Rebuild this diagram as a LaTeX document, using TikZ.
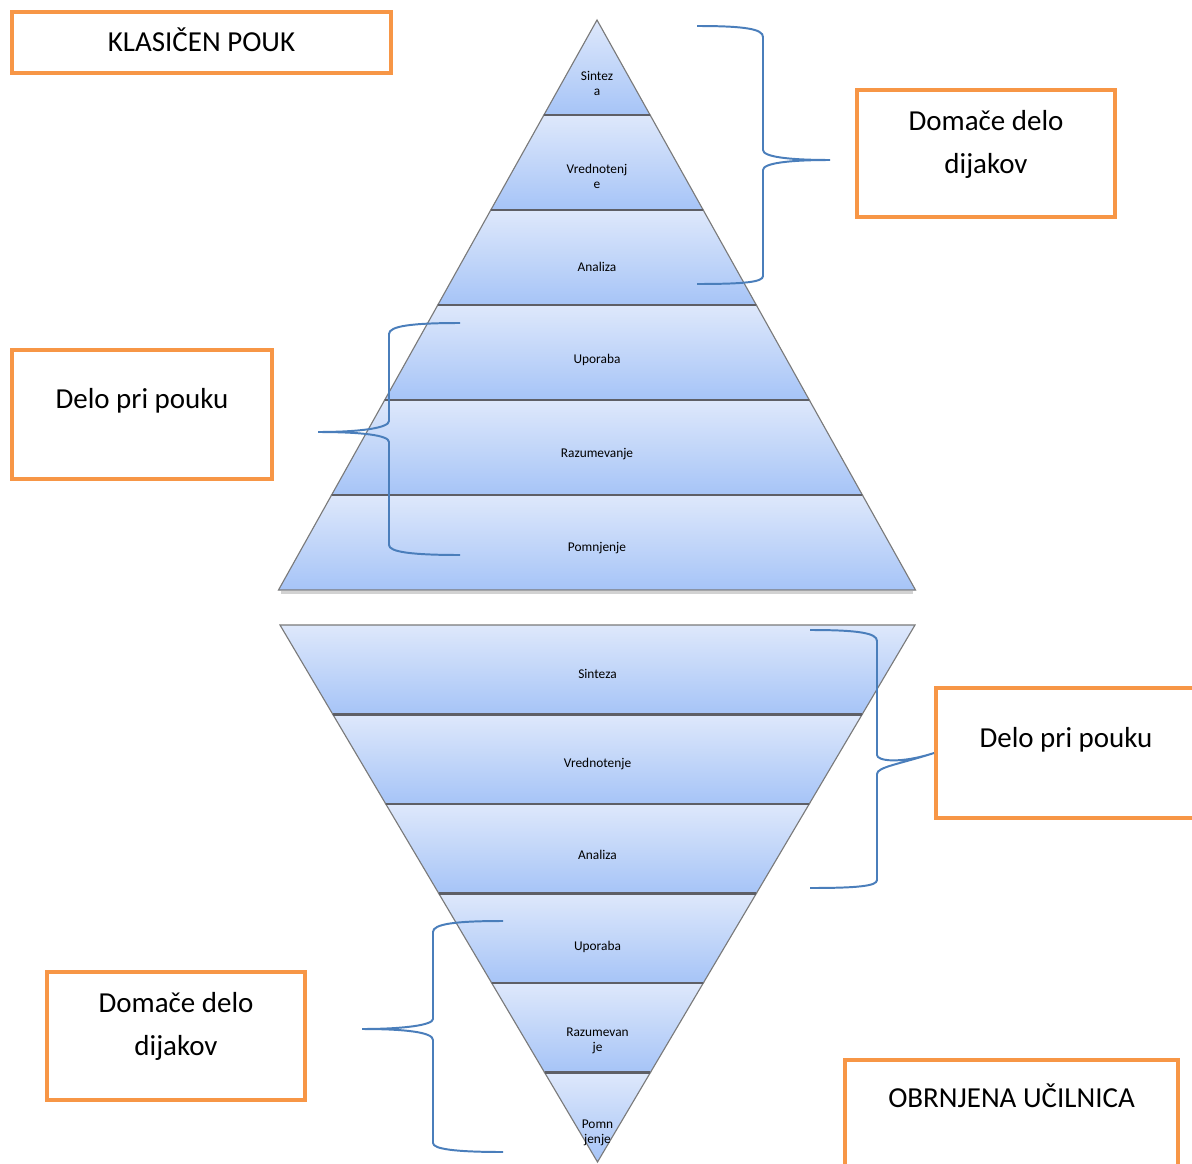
\documentclass[tikz,border=0pt]{standalone}
\usepackage{fontspec}
\setmainfont{Carlito}
\definecolor{boxorange}{HTML}{F79646}
\definecolor{braceblue}{HTML}{4A7EBB}
\definecolor{bandtop}{HTML}{DEE8FB}
\definecolor{bandbot}{HTML}{A6C4F7}
\definecolor{edgegray}{HTML}{7A7A7A}
\definecolor{sepgray}{HTML}{5E5F66}
\tikzstyle{box} = [rectangle, draw=boxorange, line width=2.8pt, fill=white,
    align=center, inner sep=0pt, text height=14pt, font=\fontsize{20.6}{30}\selectfont]
\tikzstyle{band} = [draw=edgegray, line width=0.8pt, top color=bandtop, bottom color=bandbot]
\tikzstyle{sep} = [draw=sepgray, line width=1.7pt]
\tikzstyle{level} = [align=center, inner sep=0pt, font=\fontsize{9.5}{10.7}\selectfont]
\tikzstyle{curly} = [draw=braceblue, line width=1.4pt]

\begin{document}
\begin{tikzpicture}[x=0.025cm, y=-0.025cm]
    \useasboundingbox (0,0) rectangle (1192,1164);
    \clip (0,0) rectangle (1192,1164);
    \fill[white] (0,0) rectangle (1192,1164);

    % klasicen pouk - pyramid
    \draw[gray, line width=2.2pt, opacity=0.35] (281,592.5) -- (913,592.5);
    \shade[band] (597,20) -- (650.1,115) -- (543.9,115) -- cycle;
    \shade[band] (543.9,115) -- (650.1,115) -- (703.2,210) -- (490.8,210) -- cycle;
    \shade[band] (490.8,210) -- (703.2,210) -- (756.3,305) -- (437.8,305) -- cycle;
    \shade[band] (437.8,305) -- (756.3,305) -- (809.3,400) -- (384.7,400) -- cycle;
    \shade[band] (384.7,400) -- (809.3,400) -- (862.4,495) -- (331.6,495) -- cycle;
    \shade[band] (331.6,495) -- (862.4,495) -- (915.5,590) -- (278.5,590) -- cycle;
    \draw[sep] (543.9,115) -- (650.1,115);
    \draw[sep] (490.8,210) -- (703.2,210);
    \draw[sep] (437.8,305) -- (756.3,305);
    \draw[sep] (384.7,400) -- (809.3,400);
    \draw[sep] (331.6,495) -- (862.4,495);

    % obrnjena ucilnica - inverted pyramid
    \shade[band] (280,625) -- (915,625) -- (862.1,714.5) -- (332.9,714.5) -- cycle;
    \shade[band] (332.9,714.5) -- (862.1,714.5) -- (809.2,804) -- (385.8,804) -- cycle;
    \shade[band] (385.8,804) -- (809.2,804) -- (756.3,893.5) -- (438.8,893.5) -- cycle;
    \shade[band] (438.8,893.5) -- (756.3,893.5) -- (703.3,983) -- (491.7,983) -- cycle;
    \shade[band] (491.7,983) -- (703.3,983) -- (650.4,1072.5) -- (544.6,1072.5) -- cycle;
    \shade[band] (544.6,1072.5) -- (650.4,1072.5) -- (597.5,1162) -- cycle;
    \draw[sep] (332.9,714.5) -- (862.1,714.5);
    \draw[sep] (385.8,804) -- (809.2,804);
    \draw[sep] (438.8,893.5) -- (756.3,893.5);
    \draw[sep] (491.7,983) -- (703.3,983);
    \draw[sep] (544.6,1072.5) -- (650.4,1072.5);

    \node (t_sin) [level] at (597,83.5) {Sintez\\a};
    \node (t_vre) [level] at (597,176) {Vrednotenj\\e};
    \node (t_ana) [level] at (597,267) {Analiza};
    \node (t_upo) [level] at (597,360) {Uporaba};
    \node (t_raz) [level] at (597,454) {Razumevanje};
    \node (t_pom) [level] at (597,548) {Pomnjenje};

    \node (b_sin) [level] at (597.5,674) {Sinteza};
    \node (b_vre) [level] at (597.5,764) {Vrednotenje};
    \node (b_ana) [level] at (597.5,855) {Analiza};
    \node (b_upo) [level] at (597.5,947) {Uporaba};
    \node (b_raz) [level] at (597.5,1041) {Razumevan\\je};
    \node (b_pom) [level] at (597.5,1133) {Pomn\\jenje};

    % boxes
    \node (klasicen) [box, minimum width=379*0.7113pt, minimum height=61*0.7113pt, text depth=0.7pt]
        at (201.5,42.5) {KLASIČEN POUK};
    \node (doma_t) [box, minimum width=258*0.7113pt, minimum height=127*0.7113pt,
        text height=42.7pt, text depth=14.9pt] at (986,153.5) {Domače delo\\dijakov};
    \node (pouk_t) [box, minimum width=260*0.7113pt, minimum height=129*0.7113pt, text depth=22pt]
        at (142,414.5) {Delo pri pouku};
    \node (pouk_b) [box, minimum width=260*0.7113pt, minimum height=130*0.7113pt, text depth=21.3pt]
        at (1066,753) {Delo pri pouku};
    \node (doma_b) [box, minimum width=258*0.7113pt, minimum height=128*0.7113pt,
        text height=42.7pt, text depth=15.6pt] at (176,1036) {Domače delo\\dijakov};
    \node (obrnjena) [box, minimum width=333*0.7113pt, minimum height=130*0.7113pt, text depth=38.3pt]
        at (1011.5,1125) {OBRNJENA UČILNICA};

    % braces
    \coordinate (tip_dt) at (830,160);
    \coordinate (tip_pt) at (318,432);
    \coordinate (tip_pb) at (pouk_b.west);
    \coordinate (tip_db) at (362,1029);
    \draw[curly] (697,26) .. controls (745,26) and (763,29) .. (763,37) -- (763,150)
        .. controls (763,157) and (790,160) .. (tip_dt) .. controls (790,160) and (763,163) .. (763,170)
        -- (763,276) .. controls (763,282) and (745,284) .. (697,284);
    \draw[curly] (460,323) .. controls (412,323) and (389,326) .. (389,334) -- (389,421)
        .. controls (389,428) and (360,432) .. (tip_pt) .. controls (360,432) and (389,435) .. (389,442)
        -- (389,545) .. controls (389,552) and (412,555) .. (460,555);
    \draw[curly] (810,630) .. controls (858,630) and (877,633) .. (877,641) -- (877,755)
        .. controls (877,761) and (900,764) .. (tip_pb) .. controls (900,764) and (877,767) .. (877,774)
        -- (877,880) .. controls (877,886) and (858,888) .. (810,888);
    \draw[curly] (503,921) .. controls (455,921) and (433,924) .. (433,932) -- (433,1019)
        .. controls (433,1025) and (404,1029) .. (tip_db) .. controls (404,1029) and (433,1032) .. (433,1040)
        -- (433,1143) .. controls (433,1149) and (455,1152) .. (503,1152);
\end{tikzpicture}
\end{document}
